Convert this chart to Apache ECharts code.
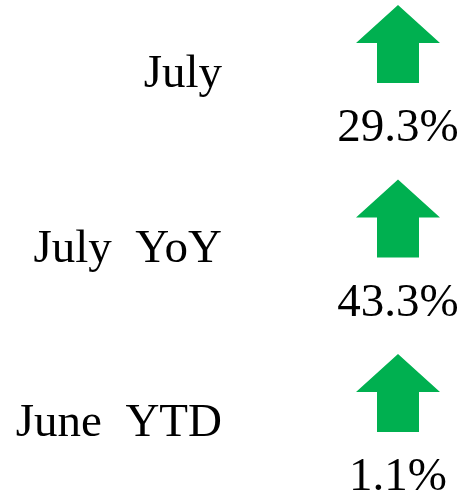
<!DOCTYPE html>
<html>
<head>
<meta charset="utf-8">
<script src="https://cdn.jsdelivr.net/npm/echarts@6/dist/echarts.min.js"></script>
<style>
  html, body { margin: 0; padding: 0; background: #fff; }
  #chart { width: 462px; height: 497px; }
</style>
</head>
<body>
<div id="chart"></div>
<script>
// row labels and the change shown under each arrow
var labels = ['July', 'July  YoY', 'June  YTD']
var changes = [29.3, 43.3, 1.1]

var upArrow = 'path://M42,0 L84,38 L63,38 L63,78 L21,78 L21,38 L0,38 Z'
var font = 'Liberation Serif'

var chart = echarts.init(document.getElementById('chart'))
chart.setOption({
    animation: false,
    grid: { left: 334, right: 0, top: 75, bottom: 73 },
    xAxis: { type: 'category', data: ['chg'], show: false },
    yAxis: {
        type: 'category',
        data: labels,
        inverse: true,
        boundaryGap: false,
        axisLine: { show: false },
        axisTick: { show: false },
        splitLine: { show: false },
        axisLabel: {
            margin: 112,
            color: '#000',
            fontFamily: font,
            fontSize: 47
        }
    },
    series: [{
        type: 'scatter',
        data: changes.map(function (v, i) { return [0, i, v] }),
        symbol: upArrow,
        symbolSize: [84, 78],
        symbolOffset: [0, -31],
        itemStyle: { color: '#00b050', opacity: 1 },
        label: {
            show: true,
            position: 'inside',
            offset: [0, 85],
            color: '#000',
            fontFamily: font,
            fontSize: 47,
            formatter: function (p) { return p.value[2].toFixed(1) + '%' }
        }
    }]
})
</script>
</body>
</html>
